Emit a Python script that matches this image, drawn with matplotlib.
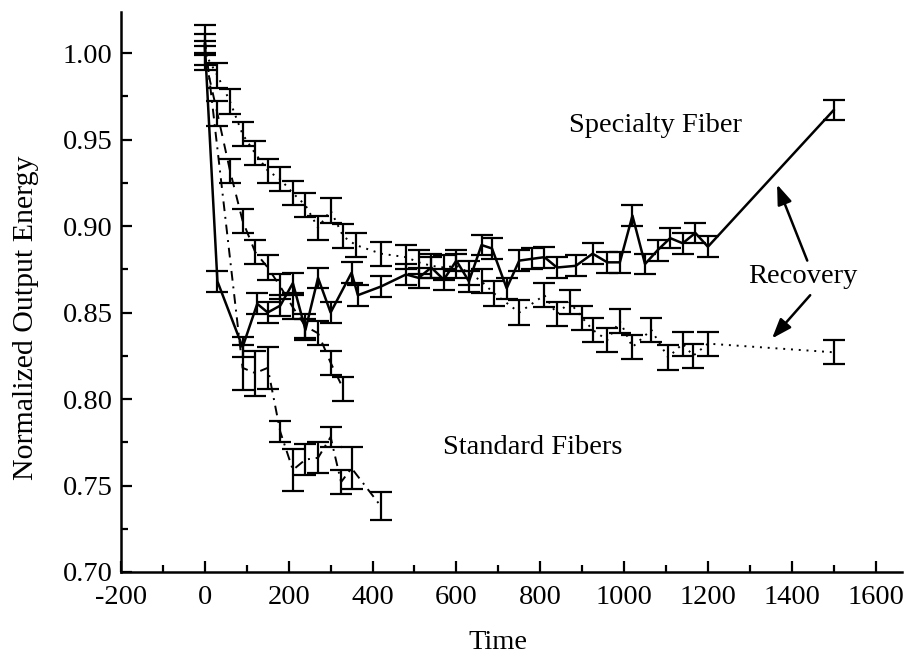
import matplotlib
matplotlib.use('Agg')
import matplotlib.pyplot as plt
from matplotlib.ticker import MultipleLocator, FormatStrFormatter

plt.rcParams['font.family'] = ['Liberation Serif', 'DejaVu Serif']
plt.rcParams['font.size'] = 20.5
plt.rcParams['axes.unicode_minus'] = False

# Specialty fiber (solid)
spec_t = [0, 30, 90, 125, 150, 180, 210, 240, 270, 300, 350, 365, 420, 480, 510, 540, 570, 600, 630, 660,
          685, 720, 750, 780, 810, 840, 885, 925, 960, 990, 1020, 1050, 1080, 1110, 1140, 1170, 1200, 1500]
spec_v = [1.005, 0.868, 0.830, 0.855, 0.850, 0.854, 0.867, 0.840, 0.870, 0.850, 0.873, 0.860, 0.865, 0.872,
          0.870, 0.876, 0.869, 0.880, 0.868, 0.889, 0.887, 0.864, 0.880, 0.881, 0.882, 0.876, 0.877, 0.884,
          0.879, 0.879, 0.906, 0.878, 0.886, 0.893, 0.890, 0.896, 0.888, 0.967]
spec_err = 0.006

# Standard fiber, dotted
dot_t = [0, 30, 60, 90, 120, 150, 180, 210, 240, 270, 300, 330, 360, 420, 480, 510, 540, 570, 600, 630,
         660, 690, 750, 810, 840, 870, 900, 925, 960, 990, 1020, 1065, 1105, 1140, 1165, 1200, 1500]
dot_v = [1.000, 0.987, 0.972, 0.953, 0.942, 0.932, 0.927, 0.919, 0.912, 0.899, 0.909, 0.894, 0.889, 0.884,
         0.882, 0.879, 0.877, 0.876, 0.877, 0.873, 0.868, 0.861, 0.850, 0.860, 0.849, 0.856, 0.847, 0.840,
         0.834, 0.845, 0.830, 0.840, 0.824, 0.832, 0.825, 0.832, 0.827]
dot_err = 0.007

# Standard fiber, dashed
dash_t = [0, 30, 60, 90, 120, 150, 180, 210, 240, 270, 300, 330]
dash_v = [0.997, 0.965, 0.932, 0.903, 0.885, 0.876, 0.865, 0.853, 0.842, 0.838, 0.821, 0.806]
dash_err = 0.007

# Standard fiber, dash-dot
dd_t = [0, 90, 120, 150, 180, 210, 240, 270, 300, 325, 350, 420]
dd_v = [1.008, 0.818, 0.815, 0.818, 0.781, 0.759, 0.765, 0.766, 0.778, 0.752, 0.760, 0.738]
dd_err = [0.008, 0.013, 0.013, 0.012, 0.006, 0.012, 0.009, 0.009, 0.006, 0.007, 0.012, 0.008]

fig = plt.figure(figsize=(9.06, 6.6), dpi=100)
ax = fig.add_axes([121 / 906, 88 / 660, 781 / 906, 560 / 660])

common = dict(color='black', ecolor='black', elinewidth=1.6, capsize=8, capthick=1.6)
ax.errorbar(dd_t, dd_v, yerr=dd_err, linestyle=(0, (5, 3, 1, 3)), linewidth=1.4, **common)
ax.errorbar(dash_t, dash_v, yerr=dash_err, linestyle=(0, (5, 4)), linewidth=1.4, **common)
ax.errorbar(dot_t, dot_v, yerr=dot_err, linestyle=(0, (1, 3)), linewidth=1.4, **common)
ax.errorbar(spec_t, spec_v, yerr=spec_err, linestyle='-', linewidth=1.8, **common)

ax.set_xlim(-200, 1663)
ax.set_ylim(0.70, 1.0237)
ax.xaxis.set_major_locator(MultipleLocator(200))
ax.xaxis.set_minor_locator(MultipleLocator(100))
ax.yaxis.set_major_locator(MultipleLocator(0.05))
ax.yaxis.set_minor_locator(MultipleLocator(0.025))
ax.yaxis.set_major_formatter(FormatStrFormatter('%.2f'))

ax.spines['top'].set_visible(False)
ax.spines['right'].set_visible(False)
ax.spines['left'].set_linewidth(1.8)
ax.spines['bottom'].set_linewidth(1.8)
ax.tick_params(which='major', direction='in', length=8, width=1.6)
ax.tick_params(axis='y', which='major', pad=6)
ax.tick_params(axis='x', which='major', pad=9)
ax.tick_params(which='minor', direction='in', length=5, width=1.6)

ax.set_xlabel('Time')
ax.set_ylabel('Normalized Output Energy', fontsize=21.5)
ax.xaxis.set_label_coords(0.483, -0.103)
ax.yaxis.set_label_coords(-0.105, 0.455)

ax.text(1076, 0.958, 'Specialty Fiber', ha='center', va='center')
ax.text(783, 0.772, 'Standard Fibers', ha='center', va='center')
ax.text(1427, 0.871, 'Recovery', ha='center', va='center')

arrow = dict(arrowstyle='-|>,head_length=0.6,head_width=0.22', color='black', lw=1.8,
             mutation_scale=20, shrinkA=0, shrinkB=0)
ax.annotate('', xy=(1365, 0.924), xytext=(1437, 0.880), arrowprops=arrow)
ax.annotate('', xy=(1353, 0.835), xytext=(1444, 0.860), arrowprops=arrow)

fig.savefig('out.png', dpi=100)
